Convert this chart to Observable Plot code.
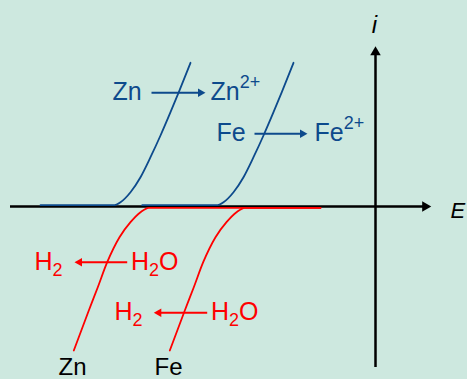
<!DOCTYPE html>
<html><head><meta charset="utf-8">
<script src="https://cdn.jsdelivr.net/npm/d3@7"></script>
<script src="https://cdn.jsdelivr.net/npm/@observablehq/plot@0.6"></script>
<style>html,body{margin:0;padding:0;background:#cde8df;} svg{display:block;}</style>
</head><body><div id="chart"></div>
<script>
// Anodic (oxidation) polarization curves, E vs i (arbitrary units)
const znAnodicE = [-33.5, -26.2, -25.5, -24.5, -23.5, -22.5, -21.5, -20.5, -19.67, -18.5];
const znAnodicI = [0.13, 0.13, 0.43, 1.43, 2.93, 4.93, 7.1, 9.43, 11.43, 14.37];
const feAnodicE = [-23.33, -15.9, -15.2, -14.2, -13.2, -12.2, -11.2, -10.2, -9.37, -8.2];
const feAnodicI = [0.13, 0.13, 0.43, 1.43, 2.93, 4.93, 7.1, 9.43, 11.43, 14.37];
// Cathodic (hydrogen evolution) curves
const znCathodicE = [-5.5, -22.67, -23.5, -24.5, -25.6, -26.83, -27.77, -28.67, -30.17];
const znCathodicI = [-0.13, -0.13, -0.57, -1.57, -3.07, -5.57, -8.07, -10.4, -14.4];
const feCathodicE = [-5.5, -13.07, -13.9, -14.9, -16.0, -17.23, -18.17, -19.07, -20.57];
const feCathodicI = [-0.13, -0.13, -0.57, -1.57, -3.07, -5.57, -8.07, -10.4, -14.4];

// Axes extents
const axisE = [-36.5, 5.57];
const axisI = [-16.1, 16.03];

// Reaction arrows
const rxTailE = [-22.4, -12.1, -24.83, -16.83];
const rxTipE  = [-17.0, -6.8, -30.1, -22.17];
const rxI     = [11.37, 7.27, -5.57, -10.63];
const rxKind  = ["ox", "ox", "red", "red"];

// Labels
const labelText = ["Zn", "Zn^{2+}", "Fe", "Fe^{2+}", "H_{2}", "H_{2}O", "H_{2}", "H_{2}O"];
const labelE    = [-26.3, -16.5, -15.9, -6.1, -34.1, -24.45, -26.1, -16.45];
const labelI    = [10.7, 10.7, 6.6, 6.6, -6.3, -6.3, -11.35, -11.35];
const labelKind = ["ox", "ox", "ox", "ox", "red", "red", "red", "red"];
const metalText = ["Zn", "Fe"];
const metalE    = [-30.3, -20.7];
const metalI    = [-16.85, -16.85];

const BLUE = "#0d4a8c", RED = "#ff0000";
const color = k => k === "ox" ? BLUE : RED;
const pts = (E, I) => E.map((e, k) => ({E: e, i: I[k]}));
const FONT = "'Liberation Sans', Arial, sans-serif";

// arrowhead centroid sits 0.5 units (5 px) behind the tip
const rx = rxTailE.map((t, k) => ({t, tip: rxTipE[k], c: rxTipE[k] + (rxKind[k] === "ox" ? -0.5 : 0.5), i: rxI[k], kind: rxKind[k]}));
const labels = labelText.map((s, k) => ({s, E: labelE[k], i: labelI[k], kind: labelKind[k]}));
const metals = metalText.map((s, k) => ({s, E: metalE[k], i: metalI[k]}));

const chart = Plot.plot({
  width: 467, height: 379, margin: 0,
  style: {background: "#cde8df", fontFamily: FONT},
  x: {domain: [-37.5, 9.2], axis: null},
  y: {domain: [-17.3, 20.6], axis: null},
  marks: [
    Plot.ruleY([0], {x1: axisE[0], x2: axisE[1] - 0.6, stroke: "black", strokeWidth: 2.5}),
    Plot.ruleX([0], {y1: axisI[0], y2: axisI[1] - 0.6, stroke: "black", strokeWidth: 2.5}),
    Plot.dot([{E: axisE[1], i: 0}], {x: "E", y: "i", symbol: "triangle", r: 3.9, rotate: 90, dx: -6, fill: "black", stroke: null}),
    Plot.dot([{E: 0, i: axisI[1]}], {x: "E", y: "i", symbol: "triangle", r: 3.9, rotate: 0, dy: 6, fill: "black", stroke: null}),
    Plot.line(pts(znAnodicE, znAnodicI), {x: "E", y: "i", stroke: BLUE, strokeWidth: 1.8, curve: "monotone-x"}),
    Plot.line(pts(feAnodicE, feAnodicI), {x: "E", y: "i", stroke: BLUE, strokeWidth: 1.8, curve: "monotone-x"}),
    Plot.line(pts(znCathodicE, znCathodicI).reverse(), {x: "E", y: "i", stroke: RED, strokeWidth: 1.8, curve: "monotone-x"}),
    Plot.line(pts(feCathodicE, feCathodicI).reverse(), {x: "E", y: "i", stroke: RED, strokeWidth: 1.8, curve: "monotone-x"}),
    Plot.link(rx, {x1: "t", x2: "c", y1: "i", y2: "i", stroke: d => color(d.kind), strokeWidth: 2}),
    Plot.dot(rx, {x: "c", y: "i", symbol: "triangle", r: 3.2, rotate: d => d.kind === "ox" ? 90 : -90,
      fill: d => color(d.kind), stroke: null}),
    Plot.text(labels, {x: "E", y: "i", text: "s", fill: d => color(d.kind), fontSize: 25, textAnchor: "start", lineAnchor: "bottom", fontFamily: FONT}),
    Plot.text(metals, {x: "E", y: "i", text: "s", fill: "black", fontSize: 24, textAnchor: "middle", lineAnchor: "bottom", fontFamily: FONT}),
    Plot.text([{s: "i", E: -0.1, i: 17.33}], {x: "E", y: "i", text: "s", fill: "black", fontSize: 24, fontStyle: "italic", textAnchor: "middle", lineAnchor: "bottom", fontFamily: FONT}),
    Plot.text([{s: "E", E: 7.5, i: -1.17}], {x: "E", y: "i", text: "s", fill: "black", fontSize: 22, fontStyle: "italic", textAnchor: "start", lineAnchor: "bottom", fontFamily: FONT})
  ]
});

// Render sub/superscripts (^{..} and _{..}) as tspans.
chart.querySelectorAll("text").forEach(t => {
  const s = t.textContent;
  if (!/[\^_]\{/.test(s)) return;
  const parts = s.split(/(\^\{[^}]*\}|_\{[^}]*\})/).filter(p => p.length);
  t.textContent = "";
  let shift = 0;
  parts.forEach(p => {
    const ts = document.createElementNS("http://www.w3.org/2000/svg", "tspan");
    let target = 0, txt = p;
    if (p.startsWith("^{")) { target = -12; txt = p.slice(2, -1); ts.setAttribute("font-size", 18); }
    else if (p.startsWith("_{")) { target = 6; txt = p.slice(2, -1); ts.setAttribute("font-size", 18); }
    const dy = target - shift;
    if (dy) ts.setAttribute("dy", dy);
    shift = target;
    ts.textContent = txt;
    t.appendChild(ts);
  });
});
document.getElementById("chart").appendChild(chart);
</script>
</body></html>
